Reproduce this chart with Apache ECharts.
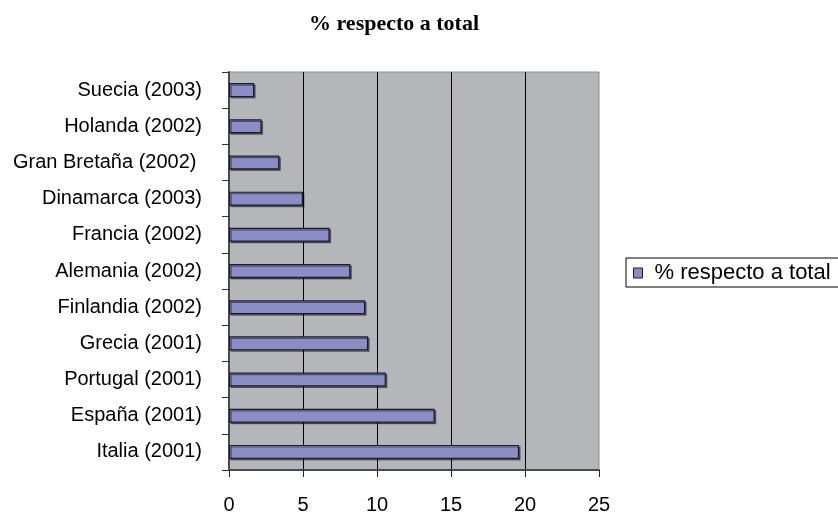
<!DOCTYPE html>
<html>
<head>
<meta charset="utf-8">
<script src="https://cdn.jsdelivr.net/npm/echarts@6/dist/echarts.min.js"></script>
<style>
  html, body { margin: 0; padding: 0; background: #ffffff; }
  #chart { width: 838px; height: 515px; }
</style>
</head>
<body>
<div id="chart"></div>
<script>
// Countries, top to bottom, with the survey year
const countries = [
  'Suecia (2003)', 'Holanda (2002)', 'Gran Bretaña (2002) ', 'Dinamarca (2003)',
  'Francia (2002)', 'Alemania (2002)', 'Finlandia (2002)', 'Grecia (2001)',
  'Portugal (2001)', 'España (2001)', 'Italia (2001)'
];
// Share of the total, in percent
const shareOfTotal = [1.7, 2.2, 3.4, 5.0, 6.8, 8.2, 9.2, 9.4, 10.6, 13.9, 19.6];
const seriesName = '% respecto a total';
const xTicks = { min: 0, max: 25, step: 5 };

const chart = echarts.init(document.getElementById('chart'), null, { renderer: 'canvas' });

chart.setOption({
  animation: false,
  backgroundColor: '#ffffff',
  title: {
    text: seriesName,
    left: 304,
    top: 8,
    textStyle: {
      fontFamily: 'Liberation Serif',
      fontWeight: 'bold',
      fontSize: 22,
      color: '#000000'
    }
  },
  legend: {
    data: [seriesName],
    left: 626,
    top: 258,
    orient: 'vertical',
    padding: [4, 12, 3, 7],
    borderColor: '#000000',
    borderWidth: 1,
    backgroundColor: '#ffffff',
    itemWidth: 9,
    itemHeight: 10,
    icon: 'rect',
    itemStyle: { borderColor: '#1c1c2c', borderWidth: 1, shadowBlur: 0, shadowOffsetX: 0, shadowOffsetY: 0 },
    textStyle: {
      fontFamily: 'Liberation Sans',
      fontSize: 22,
      color: '#000000',
      padding: [0, 0, 0, 7]
    }
  },
  grid: {
    left: 229,
    top: 72,
    width: 370,
    height: 403,
    show: true,
    backgroundColor: '#b5b6ba',
    borderColor: '#8a8a8a',
    borderWidth: 1
  },
  xAxis: {
    type: 'value',
    min: xTicks.min,
    max: xTicks.max,
    interval: xTicks.step,
    axisLine: { show: true, onZero: false, lineStyle: { color: '#4a4a4a', width: 2 } },
    axisTick: { show: true, length: 7, lineStyle: { color: '#222222', width: 1 } },
    axisLabel: {
      margin: 25,
      fontFamily: 'Liberation Sans',
      fontSize: 20,
      color: '#000000'
    },
    splitLine: {
      show: true,
      showMinLine: false,
      showMaxLine: false,
      lineStyle: { color: '#000000', width: 1 }
    }
  },
  yAxis: {
    type: 'category',
    data: countries,
    inverse: true,
    axisLine: { show: true, lineStyle: { color: '#4a4a4a', width: 2 } },
    axisTick: { show: true, length: 7, lineStyle: { color: '#333333', width: 1 } },
    axisLabel: {
      margin: 27,
      fontFamily: 'Liberation Sans',
      fontSize: 20,
      color: '#000000'
    },
    splitLine: { show: false }
  },
  series: [{
    name: seriesName,
    type: 'bar',
    data: shareOfTotal,
    barWidth: 14,
    itemStyle: {
      color: '#8b8ec6',
      borderColor: '#1c1c2c',
      borderWidth: 1.2,
      shadowColor: 'rgba(0,0,0,0.45)',
      shadowOffsetX: 1.5,
      shadowOffsetY: 1.5,
      shadowBlur: 0
    }
  }]
});
</script>
</body>
</html>
